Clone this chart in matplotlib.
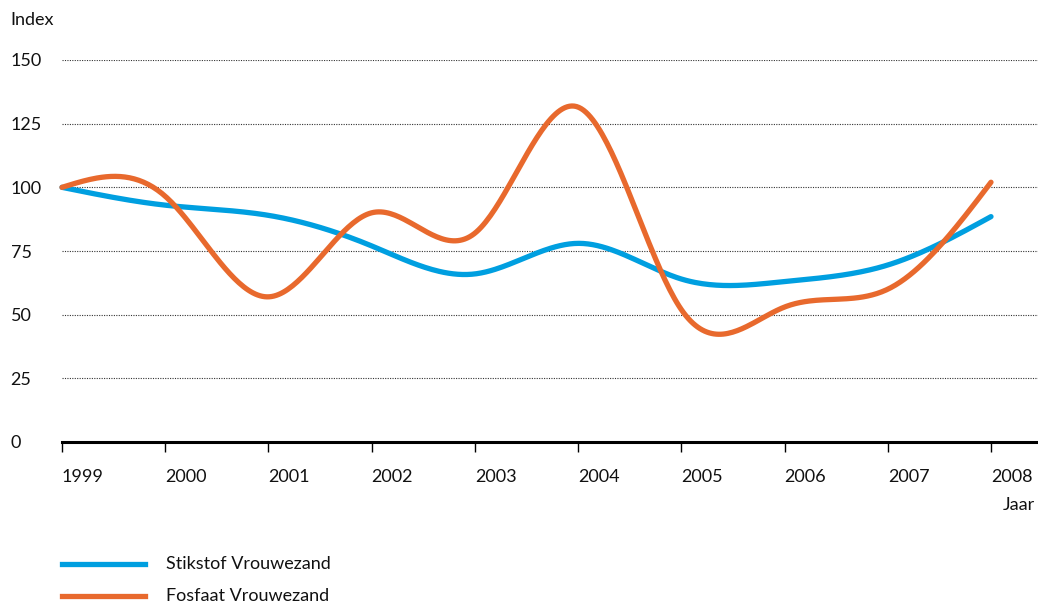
import numpy as np
import matplotlib.pyplot as plt

plt.rcParams['font.family'] = ['Lato', 'DejaVu Sans']

# Index values (1999 = 100)
years = [1999, 2000, 2001, 2002, 2003, 2004, 2005, 2006, 2007, 2008]
stikstof = [100, 93, 89, 77, 66, 78, 64, 63, 69.5, 88.5]
fosfaat = [100, 96.5, 57, 90, 82, 131.5, 52, 53, 60, 102]

blue = '#009FE0'
orange = '#E8692D'


def smooth(x, y, n=400):
    # natural cubic spline through the points
    x = np.asarray(x, float)
    y = np.asarray(y, float)
    k = len(x)
    h = np.diff(x)
    A = np.zeros((k, k))
    b = np.zeros(k)
    A[0, 0] = A[-1, -1] = 1
    for i in range(1, k - 1):
        A[i, i - 1] = h[i - 1]
        A[i, i] = 2 * (h[i - 1] + h[i])
        A[i, i + 1] = h[i]
        b[i] = 6 * ((y[i + 1] - y[i]) / h[i] - (y[i] - y[i - 1]) / h[i - 1])
    m = np.linalg.solve(A, b)
    xs = np.linspace(x[0], x[-1], n)
    idx = np.clip(np.searchsorted(x, xs) - 1, 0, k - 2)
    x0, x1 = x[idx], x[idx + 1]
    hh = x1 - x0
    t0, t1 = x1 - xs, xs - x0
    ys = (m[idx] * t0 ** 3 + m[idx + 1] * t1 ** 3) / (6 * hh) \
        + (y[idx] / hh - m[idx] * hh / 6) * t0 \
        + (y[idx + 1] / hh - m[idx + 1] * hh / 6) * t1
    return xs, ys


fig = plt.figure(figsize=(10.38, 6.05), dpi=100)
ax = fig.add_axes([62 / 1038, 1 - 442 / 605, 1 - 62 / 1038, (442 - 60) / 605])

xs, ys = smooth(years, stikstof)
ax.plot(xs, ys, color=blue, lw=3.8, solid_capstyle='round', clip_on=False, zorder=3)
xs, ys = smooth(years, fosfaat)
ax.plot(xs, ys, color=orange, lw=3.8, solid_capstyle='round', clip_on=False, zorder=3)

ax.set_xlim(1999, 1999 + (1038 - 62) / (991 - 62) * 9)
ax.set_ylim(0, 150)

for v in [25, 50, 75, 100, 125, 150]:
    ax.axhline(v, color='#333333', lw=0.8, ls=(0, (1, 1.2)), zorder=1)

for s in ['top', 'right', 'left']:
    ax.spines[s].set_visible(False)
ax.spines['bottom'].set_linewidth(2.2)

fs = 13
ax.set_xticks(years)
ax.set_xticklabels([str(y) for y in years], ha='left', fontsize=fs, color='#111111')
ax.tick_params(axis='x', length=7.5, width=1.0, pad=12)
ax.set_yticks([0, 25, 50, 75, 100, 125, 150])
ax.set_yticklabels(['0', '25', '50', '75', '100', '125', '150'], ha='left', fontsize=fs,
                   color='#111111')
ax.tick_params(axis='y', length=0, pad=37)

fig.text(10 / 1038, 1 - 20 / 605, 'Index', fontsize=fs, va='center', ha='left', color='#111111')
fig.text(1035 / 1038, 1 - 505 / 605, 'Jaar', fontsize=fs, va='center', ha='right', color='#111111')

# legend
for ypix, col, lab in [(564, blue, 'Stikstof Vrouwezand'), (596, orange, 'Fosfaat Vrouwezand')]:
    yf = 1 - ypix / 605
    fig.add_artist(plt.Line2D([62 / 1038, 145 / 1038], [yf, yf], color=col, lw=3.8))
    fig.text(166 / 1038, yf, lab, fontsize=fs, va='center', ha='left', color='#111111')

fig.savefig('out.png', dpi=100)
